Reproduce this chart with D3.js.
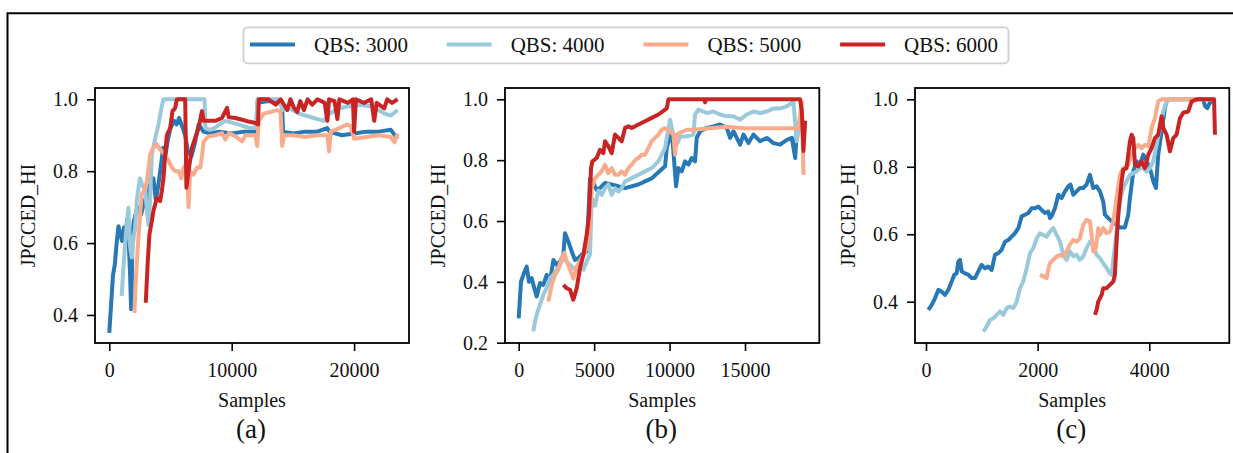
<!DOCTYPE html>
<html>
<head>
<meta charset="utf-8">
<script src="https://cdn.jsdelivr.net/npm/d3@7/dist/d3.min.js"></script>
<style>
  html, body { margin: 0; padding: 0; background: #fff; }
  svg { display: block; font-family: "Liberation Serif", "Times New Roman", serif; }
</style>
</head>
<body>
<svg id="chart" width="1233" height="453"></svg>
<script>
// Series names and tick values
const seriesNames = ["QBS: 3000", "QBS: 4000", "QBS: 5000", "QBS: 6000"];
const xTicksA = [0, 10000, 20000];
const xTicksB = [0, 5000, 10000, 15000];
const xTicksC = [0, 2000, 4000];
const yTicksA = [0.4, 0.6, 0.8, 1.0];
const yTicksB = [0.2, 0.4, 0.6, 0.8, 1.0];
const yTicksC = [0.4, 0.6, 0.8, 1.0];

// Panel (a): [samples, JPCCED_HI]
const a3000 = [[0,0.35],[150,0.43],[300,0.51],[450,0.54],[600,0.60],[750,0.647],[900,0.624],[1050,0.606],[1200,0.643],[1350,0.624],[1450,0.666],[1550,0.633],[1700,0.513],[1780,0.416],[1830,0.45],[1880,0.62],[2000,0.66],[2300,0.70],[2600,0.68],[2900,0.72],[3100,0.70],[3300,0.76],[3600,0.78],[3800,0.72],[4000,0.76],[4200,0.81],[4400,0.865],[4600,0.846],[4800,0.89],[5000,0.92],[5300,0.94],[5500,0.93],[5700,0.948],[6000,0.92],[6200,0.90],[6400,0.86],[6700,0.84],[7000,0.88],[7300,0.93],[7700,0.91],[8200,0.905],[9000,0.91],[10000,0.905],[11000,0.91],[12000,0.91],[12100,0.99],[13000,0.995],[14100,0.99],[14200,0.91],[15000,0.905],[16000,0.91],[17000,0.91],[17800,0.92],[18000,0.91],[19000,0.90],[20000,0.905],[21000,0.91],[22000,0.91],[23000,0.915],[23550,0.89]];
const a4000 = [[1010,0.453],[1150,0.53],[1290,0.596],[1480,0.67],[1560,0.698],[1700,0.59],[1833,0.56],[2000,0.62],[2106,0.64],[2250,0.72],[2380,0.753],[2516,0.78],[2700,0.76],[2926,0.75],[3100,0.68],[3200,0.65],[3330,0.72],[3470,0.846],[3743,0.89],[4016,0.93],[4290,0.98],[4426,1.0],[7780,1.0],[7850,0.92],[8200,0.915],[8600,0.92],[9000,0.93],[9500,0.94],[10000,0.935],[10500,0.93],[11000,0.925],[11500,0.92],[12000,0.92],[12100,1.0],[13800,1.0],[14200,0.97],[14700,0.975],[15500,0.96],[16500,0.95],[17500,0.94],[18000,0.96],[18800,0.975],[19500,0.98],[20500,0.985],[21500,0.98],[22500,0.96],[23000,0.955],[23550,0.97]];
const a5000 = [[2052,0.406],[2161,0.494],[2325,0.587],[2516,0.68],[2652,0.735],[2926,0.754],[3063,0.77],[3336,0.846],[3607,0.865],[3880,0.875],[4153,0.86],[4290,0.856],[4566,0.846],[4836,0.83],[5110,0.81],[5384,0.80],[5660,0.80],[5877,0.78],[6066,0.81],[6340,0.82],[6475,0.70],[6612,0.80],[6885,0.79],[7160,0.81],[7432,0.81],[7570,0.84],[7705,0.883],[8115,0.897],[8660,0.90],[9210,0.906],[9480,0.888],[9760,0.906],[10300,0.897],[10850,0.883],[11120,0.90],[11940,0.90],[12079,0.87],[12216,0.94],[12626,0.96],[13200,0.965],[13719,0.97],[13990,0.965],[14127,0.87],[14265,0.90],[15000,0.90],[16000,0.895],[17000,0.90],[17816,0.90],[17953,0.855],[18090,0.91],[18800,0.92],[19456,0.93],[19730,0.925],[20000,0.89],[21000,0.895],[22000,0.90],[23000,0.895],[23300,0.88],[23555,0.905]];
const a6000 = [[2980,0.434],[3145,0.55],[3280,0.624],[3470,0.66],[3607,0.69],[3743,0.707],[3880,0.726],[4153,0.717],[4290,0.744],[4426,0.78],[4566,0.846],[4700,0.90],[4973,0.92],[5164,0.967],[5384,0.976],[5520,1.0],[6200,1.0],[6300,0.754],[6475,0.80],[6750,0.865],[7025,0.893],[7295,0.92],[7570,0.967],[7705,0.94],[8115,0.94],[8660,0.94],[9210,0.948],[9620,0.976],[9760,0.95],[10300,0.948],[10850,0.943],[11400,0.938],[11940,0.934],[12150,0.93],[12216,1.0],[13000,1.0],[13600,0.985],[14000,1.0],[14537,0.97],[14800,1.0],[15100,0.975],[15356,0.965],[15600,0.995],[15900,0.97],[16200,1.0],[16580,0.985],[17000,1.0],[17600,0.99],[17816,0.94],[17950,1.0],[18400,0.995],[18635,0.945],[18800,1.0],[19500,0.99],[19900,1.0],[20000,0.91],[20150,1.0],[20800,0.99],[21400,1.0],[21640,0.94],[21850,0.99],[22460,0.975],[22700,1.0],[23100,0.99],[23555,1.0]];

// Panel (b)
const b3000 = [[0,0.28],[153,0.401],[307,0.423],[528,0.45],[683,0.40],[860,0.412],[1037,0.379],[1191,0.352],[1412,0.396],[1634,0.39],[1855,0.423],[2076,0.401],[2297,0.472],[2517,0.456],[2740,0.467],[2960,0.489],[3070,0.56],[3290,0.533],[3512,0.50],[3733,0.472],[3955,0.478],[4176,0.489],[4508,0.50],[4728,0.74],[4883,0.73],[5200,0.70],[5720,0.725],[6160,0.72],[7050,0.708],[7933,0.72],[8375,0.73],[8817,0.74],[9260,0.76],[9701,0.78],[9812,0.84],[10144,0.90],[10430,0.714],[10585,0.774],[10807,0.763],[11028,0.796],[11250,0.785],[11470,0.807],[11690,0.796],[11800,0.873],[12022,0.895],[12465,0.906],[12906,0.911],[13350,0.917],[13790,0.906],[14013,0.873],[14234,0.895],[14677,0.851],[14898,0.884],[15230,0.856],[15561,0.884],[16000,0.862],[16446,0.873],[16888,0.856],[17330,0.851],[17773,0.867],[18105,0.873],[18327,0.807],[18437,0.895],[18653,0.93],[18985,0.905]];
const b4000 = [[968,0.237],[1080,0.27],[1191,0.292],[1412,0.325],[1634,0.357],[1855,0.379],[2076,0.412],[2297,0.423],[2517,0.44],[2740,0.456],[2960,0.478],[3180,0.467],[3400,0.456],[3623,0.445],[3844,0.44],[4065,0.445],[4287,0.44],[4508,0.467],[4728,0.49],[4840,0.675],[5060,0.65],[5280,0.70],[5500,0.686],[5722,0.708],[5943,0.72],[6164,0.686],[6385,0.708],[6606,0.697],[6827,0.708],[7050,0.73],[7490,0.741],[7933,0.752],[8375,0.763],[8817,0.774],[9260,0.796],[9701,0.84],[9812,0.873],[10033,0.933],[10254,0.884],[10475,0.851],[10697,0.878],[11140,0.878],[11580,0.884],[11690,0.95],[11912,0.966],[12465,0.955],[12906,0.96],[13350,0.95],[13790,0.944],[14234,0.944],[14677,0.933],[15120,0.95],[15561,0.96],[16000,0.955],[16446,0.96],[16888,0.97],[17330,0.97],[17773,0.977],[18105,0.988],[18211,0.99],[18432,0.862],[18653,0.93],[18985,0.895]];
const b5000 = [[1965,0.335],[2187,0.39],[2408,0.423],[2630,0.44],[2850,0.478],[3027,0.495],[3180,0.467],[3400,0.44],[3623,0.41],[3844,0.45],[4176,0.478],[4508,0.51],[4728,0.577],[4840,0.708],[5060,0.74],[5280,0.752],[5500,0.763],[5722,0.785],[5943,0.757],[6164,0.774],[6385,0.752],[6606,0.752],[6827,0.763],[7050,0.752],[7270,0.774],[7490,0.785],[7712,0.80],[7933,0.807],[8154,0.818],[8375,0.818],[8596,0.84],[8817,0.862],[9040,0.873],[9260,0.884],[9480,0.90],[9701,0.905],[10033,0.895],[10254,0.884],[10365,0.818],[10475,0.884],[10697,0.89],[11140,0.90],[11580,0.90],[12685,0.905],[13790,0.91],[14898,0.905],[16000,0.905],[17109,0.905],[18211,0.905],[18543,0.905],[18764,0.99],[18875,0.752]];
const b6000 = [[2960,0.39],[3180,0.379],[3400,0.374],[3623,0.341],[3844,0.379],[4065,0.445],[4287,0.489],[4508,0.555],[4663,0.62],[4795,0.774],[4883,0.796],[5170,0.807],[5390,0.834],[5612,0.823],[5722,0.862],[5943,0.845],[6164,0.823],[6385,0.884],[6606,0.873],[6827,0.862],[7050,0.906],[7270,0.911],[7490,0.906],[7712,0.911],[7933,0.917],[8375,0.928],[8817,0.939],[9260,0.95],[9701,0.966],[9812,0.97],[9923,1.0],[12300,1.0],[12355,0.99],[12410,1.0],[18653,1.0],[18764,0.96],[18875,0.83],[18985,0.93]];

// Panel (c)
const c3000 = [[42,0.376],[101,0.39],[161,0.41],[221,0.435],[280,0.43],[340,0.42],[400,0.435],[460,0.46],[507,0.48],[549,0.484],[579,0.519],[609,0.524],[639,0.49],[698,0.484],[758,0.48],[818,0.47],[877,0.47],[937,0.49],[997,0.509],[1057,0.499],[1116,0.504],[1176,0.494],[1236,0.539],[1295,0.544],[1355,0.554],[1415,0.578],[1474,0.583],[1534,0.593],[1594,0.603],[1654,0.618],[1713,0.653],[1773,0.658],[1833,0.663],[1892,0.677],[1952,0.677],[2012,0.682],[2071,0.672],[2131,0.663],[2190,0.667],[2220,0.648],[2250,0.653],[2310,0.677],[2370,0.717],[2429,0.707],[2489,0.727],[2549,0.742],[2590,0.747],[2638,0.717],[2698,0.727],[2757,0.737],[2817,0.737],[2877,0.747],[2937,0.776],[2996,0.737],[3056,0.742],[3116,0.727],[3175,0.697],[3205,0.658],[3265,0.648],[3325,0.638],[3414,0.628],[3474,0.62],[3563,0.62],[3623,0.658],[3653,0.707],[3713,0.786],[3773,0.816],[3832,0.806],[3892,0.836],[3952,0.816],[4011,0.796],[4071,0.757],[4119,0.737],[4160,0.836],[4220,0.905],[4280,0.974],[4310,0.994],[4370,1.0],[4967,1.0],[4997,0.98],[5038,0.974],[5086,0.99],[5176,1.0]];
const c4000 = [[1026,0.311],[1086,0.326],[1146,0.346],[1206,0.351],[1265,0.361],[1325,0.371],[1385,0.361],[1444,0.381],[1504,0.386],[1564,0.381],[1624,0.40],[1683,0.44],[1743,0.46],[1803,0.499],[1863,0.544],[1922,0.559],[1982,0.588],[2041,0.603],[2101,0.598],[2161,0.593],[2220,0.608],[2280,0.618],[2340,0.598],[2400,0.578],[2460,0.539],[2519,0.524],[2579,0.549],[2638,0.535],[2698,0.539],[2757,0.524],[2817,0.534],[2877,0.559],[2937,0.578],[2996,0.568],[3056,0.539],[3116,0.529],[3175,0.514],[3235,0.50],[3295,0.484],[3325,0.48],[3474,0.70],[3533,0.737],[3593,0.757],[3653,0.776],[3773,0.786],[3832,0.796],[3892,0.796],[3952,0.786],[4011,0.796],[4071,0.816],[4130,0.865],[4190,0.915],[4250,0.964],[4310,0.994],[4370,1.0],[5176,1.0]];
const c5000 = [[2041,0.48],[2101,0.475],[2161,0.47],[2190,0.494],[2220,0.514],[2280,0.524],[2340,0.534],[2400,0.539],[2460,0.534],[2519,0.549],[2578,0.569],[2638,0.583],[2698,0.578],[2757,0.588],[2817,0.628],[2877,0.643],[2937,0.638],[2966,0.598],[2996,0.549],[3044,0.559],[3086,0.618],[3116,0.598],[3175,0.618],[3235,0.603],[3295,0.608],[3355,0.638],[3414,0.707],[3474,0.776],[3533,0.796],[3623,0.806],[3683,0.836],[3743,0.855],[3803,0.865],[3862,0.855],[3922,0.865],[3982,0.86],[4041,0.915],[4100,0.944],[4160,0.994],[4220,1.0],[5160,1.0]];
const c6000 = [[3026,0.361],[3056,0.376],[3086,0.40],[3146,0.42],[3175,0.44],[3235,0.44],[3295,0.45],[3355,0.46],[3384,0.48],[3414,0.578],[3444,0.658],[3474,0.707],[3504,0.757],[3533,0.791],[3593,0.796],[3623,0.836],[3653,0.875],[3683,0.895],[3713,0.885],[3743,0.806],[3803,0.801],[3862,0.816],[3922,0.796],[3982,0.836],[4041,0.855],[4100,0.885],[4160,0.895],[4220,0.95],[4250,0.915],[4310,0.895],[4370,0.846],[4429,0.885],[4489,0.895],[4549,0.944],[4608,0.96],[4698,0.964],[4758,0.994],[4848,1.0],[5160,1.0],[5176,0.895]];

// Drawing setup
const colors = ["#2878b5", "#9ac9db", "#f8ac8c", "#c82423"];
const svg = d3.select("#chart");

const panels = [
  { box: [95, 88, 409, 343],     xDom: [-1168, 24485], yDom: [0.322, 1.0314], xTicks: xTicksA, yTicks: yTicksA, data: [a3000, a4000, a5000, a6000], tag: "(a)" },
  { box: [505, 88, 819.3, 343],  xDom: [-908, 19924],  yDom: [0.199, 1.0371], xTicks: xTicksB, yTicks: yTicksB, data: [b3000, b4000, b5000, b6000], tag: "(b)" },
  { box: [915, 88, 1229.3, 343], xDom: [-197, 5433],   yDom: [0.2776, 1.0335], xTicks: xTicksC, yTicks: yTicksC, data: [c3000, c4000, c5000, c6000], tag: "(c)" }
];

// Outer frame (top and left edges visible)
svg.append("path")
  .attr("d", "M7.5,470V13.3H1245")
  .attr("fill", "none").attr("stroke", "#000").attr("stroke-width", 2);

panels.forEach((p, i) => {
  const [x0, y0, x1, y1] = p.box;
  const x = d3.scaleLinear().domain(p.xDom).range([x0, x1]);
  const y = d3.scaleLinear().domain(p.yDom).range([y1, y0]);
  const g = svg.append("g");

  const clipId = "clip" + i;
  g.append("clipPath").attr("id", clipId)
    .append("rect").attr("x", x0).attr("y", y0).attr("width", x1 - x0).attr("height", y1 - y0);

  const line = d3.line().x(d => x(d[0])).y(d => y(d[1]));
  const lines = g.append("g").attr("clip-path", `url(#${clipId})`);
  p.data.forEach((ser, k) => {
    lines.append("path").datum(ser)
      .attr("d", line)
      .attr("fill", "none")
      .attr("stroke", colors[k])
      .attr("stroke-width", 4)
      .attr("stroke-linejoin", "round")
      .attr("stroke-linecap", "butt");
  });

  // Axes
  const xa = g.append("g").attr("transform", `translate(0,${y1})`)
    .call(d3.axisBottom(x).tickValues(p.xTicks).tickFormat(d3.format("d")).tickSize(8).tickPadding(12));
  const ya = g.append("g").attr("transform", `translate(${x0},0)`)
    .call(d3.axisLeft(y).tickValues(p.yTicks).tickFormat(d3.format(".1f")).tickSize(8).tickPadding(9));
  [xa, ya].forEach(a => {
    a.select(".domain").remove();
    a.selectAll(".tick line").attr("stroke", "#000").attr("stroke-width", 1.6);
    a.selectAll(".tick text").attr("fill", "#111").style("font-size", "20px")
      .style("font-family", "'Liberation Serif', 'Times New Roman', serif");
  });

  // Axes frame
  g.append("rect").attr("x", x0).attr("y", y0).attr("width", x1 - x0).attr("height", y1 - y0)
    .attr("fill", "none").attr("stroke", "#000").attr("stroke-width", 1.8);

  const cx = (x0 + x1) / 2;
  g.append("text").attr("x", cx).attr("y", 406.5).attr("text-anchor", "middle")
    .style("font-size", "20px").attr("fill", "#111").text("Samples");
  g.append("text").attr("transform", `translate(${x0 - 60},${(y0 + y1) / 2}) rotate(-90)`)
    .attr("text-anchor", "middle").style("font-size", "20px").attr("fill", "#111").text("JPCCED_HI");
  g.append("text").attr("x", cx - 1).attr("y", 438).attr("text-anchor", "middle")
    .style("font-size", "27px").attr("fill", "#111").text(p.tag);
});

// Legend
const lg = svg.append("g");
lg.append("rect").attr("x", 243.5).attr("y", 27.3).attr("width", 765).attr("height", 36).attr("rx", 4)
  .attr("fill", "#fff").attr("stroke", "#d0d0d0").attr("stroke-width", 1.8);
seriesNames.forEach((name, k) => {
  const lx = 250 + k * 196.7;
  lg.append("line").attr("x1", lx).attr("x2", lx + 45).attr("y1", 44.5).attr("y2", 44.5)
    .attr("stroke", colors[k]).attr("stroke-width", 3.8);
  lg.append("text").attr("x", lx + 64).attr("y", 51.5).style("font-size", "21px").attr("fill", "#111").text(name);
});
</script>
</body>
</html>
